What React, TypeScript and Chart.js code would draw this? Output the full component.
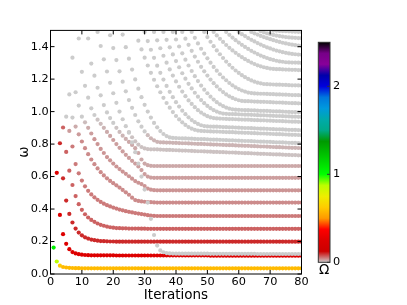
import React, { useEffect, useRef } from 'react';
import { Chart, registerables } from 'chart.js';
Chart.register(...registerables);

const W = 407;
const H = 305;
const FONT = 'DejaVu Sans';

// ---- axis settings ----
const X_MIN = 0, X_MAX = 80, X_STEP = 10;
const Y_MIN = 0, Y_MAX = 1.5, Y_STEP = 0.2;
const CB_MIN = 0, CB_MAX = 2.5, CB_STEP = 1;

// ---- converged (coloured) modes: omega per iteration, starting at modeStarts[j] ----
const w0 = [0.163,0.077,0.051,0.043,0.040,0.038,0.037,0.036,0.036,0.035,
0.035,0.035,0.035,0.035,0.035,0.035,0.035,0.035,0.035,0.035,
0.035,0.035,0.035,0.035,0.035,0.035,0.035,0.035,0.035,0.035,
0.035,0.035,0.035,0.035,0.035,0.035,0.035,0.035,0.035,0.035,
0.035,0.035,0.035,0.035,0.035,0.035,0.035,0.035,0.035,0.035,
0.035,0.035,0.035,0.035,0.035,0.035,0.035,0.035,0.035,0.035,
0.035,0.035,0.035,0.035,0.035,0.035,0.035,0.035,0.035,0.035,
0.035,0.035,0.035,0.035,0.035,0.035,0.035,0.035,0.035,0.035];
const w1 = [0.623,0.364,0.245,0.186,0.153,0.135,0.127,0.122,0.119,
0.117,0.116,0.115,0.115,0.115,0.115,0.115,0.115,0.115,0.115,
0.114,0.114,0.114,0.114,0.114,0.114,0.114,0.114,0.114,0.114,
0.114,0.114,0.114,0.114,0.114,0.114,0.114,0.114,0.114,0.114,
0.114,0.114,0.114,0.114,0.114,0.114,0.114,0.114,0.114,0.114,
0.113,0.113,0.113,0.113,0.113,0.113,0.113,0.113,0.113,0.113,
0.113,0.113,0.113,0.113,0.113,0.113,0.113,0.113,0.113,0.113,
0.113,0.113,0.113,0.113,0.113,0.113,0.113,0.113,0.113,0.113];
const w2 = [0.805,0.589,0.452,0.370,0.317,0.280,0.255,0.238,
0.226,0.218,0.212,0.208,0.205,0.203,0.202,0.201,0.200,0.200,
0.199,0.199,0.199,0.199,0.199,0.199,0.199,0.199,0.199,0.199,
0.199,0.199,0.199,0.199,0.199,0.199,0.199,0.199,0.199,0.199,
0.199,0.199,0.199,0.199,0.199,0.199,0.199,0.199,0.199,0.199,
0.199,0.199,0.199,0.199,0.199,0.199,0.199,0.199,0.199,0.199,
0.199,0.199,0.199,0.199,0.199,0.199,0.199,0.199,0.199,0.199,
0.199,0.199,0.199,0.199,0.199,0.199,0.199,0.199,0.199,0.199];
const w3 = [0.902,0.752,0.636,0.548,0.480,0.430,0.395,
0.368,0.348,0.333,0.321,0.311,0.303,0.297,0.292,0.288,0.285,
0.283,0.282,0.281,0.281,0.280,0.280,0.280,0.280,0.279,0.279,
0.278,0.278,0.278,0.278,0.278,0.278,0.278,0.278,0.278,0.278,
0.278,0.278,0.278,0.278,0.278,0.278,0.278,0.278,0.278,0.278,
0.278,0.278,0.278,0.278,0.278,0.278,0.278,0.278,0.278,0.278,
0.278,0.278,0.278,0.278,0.278,0.278,0.278,0.278,0.278,0.278,
0.278,0.278,0.278,0.278,0.278,0.278,0.278,0.278,0.278,0.278];
const w4 = [0.969,0.881,0.785,0.677,0.620,0.575,
0.540,0.512,0.490,0.472,0.457,0.444,0.433,0.424,0.416,0.409,
0.403,0.397,0.392,0.387,0.383,0.379,0.375,0.372,0.369,0.366,
0.362,0.359,0.358,0.357,0.357,0.357,0.357,0.357,0.357,0.357,
0.357,0.357,0.357,0.357,0.357,0.357,0.357,0.357,0.357,0.357,
0.357,0.357,0.357,0.357,0.357,0.357,0.357,0.357,0.357,0.357,
0.357,0.357,0.357,0.357,0.357,0.357,0.357,0.357,0.357,0.357,
0.357,0.357,0.357,0.357,0.357,0.357,0.357,0.357,0.357,0.357];
const w5 = [1.106,0.963,0.908,0.860,0.816,
0.775,0.738,0.705,0.676,0.650,0.627,0.607,0.589,0.573,0.559,
0.546,0.532,0.518,0.503,0.488,0.470,0.455,0.450,0.447,0.445,
0.443,0.442,0.441,0.440,0.440,0.440,0.440,0.440,0.440,0.440,
0.440,0.440,0.440,0.440,0.440,0.440,0.440,0.440,0.440,0.440,
0.440,0.440,0.440,0.440,0.440,0.440,0.440,0.440,0.440,0.440,
0.440,0.440,0.440,0.440,0.440,0.440,0.440,0.440,0.440,0.440,
0.440,0.440,0.440,0.440,0.440,0.440,0.440,0.440,0.440,0.440];
const w6 = [1.332,1.119,1.037,0.969,
0.934,0.900,0.865,0.830,0.800,0.770,0.745,0.720,0.700,0.680,
0.662,0.646,0.631,0.617,0.602,0.587,0.572,0.562,0.554,0.542,
0.526,0.519,0.516,0.515,0.515,0.515,0.515,0.515,0.515,0.515,
0.515,0.515,0.515,0.515,0.515,0.515,0.515,0.515,0.515,0.515,
0.515,0.515,0.515,0.515,0.515,0.515,0.515,0.515,0.515,0.515,
0.515,0.515,0.515,0.515,0.515,0.515,0.515,0.515,0.515,0.515,
0.515,0.515,0.515,0.515,0.515,0.515,0.515,0.515,0.515,0.515];
const w7 = [1.450,1.245,
1.159,1.086,1.020,0.979,0.950,0.925,0.900,0.875,0.850,0.825,
0.800,0.777,0.755,0.734,0.715,0.697,0.680,0.662,0.640,0.615,
0.600,0.594,0.592,0.592,0.592,0.592,0.592,0.592,0.592,0.592,
0.592,0.592,0.592,0.592,0.592,0.592,0.592,0.592,0.592,0.592,
0.592,0.592,0.592,0.592,0.592,0.592,0.592,0.592,0.592,0.592,
0.592,0.592,0.592,0.592,0.592,0.592,0.592,0.592,0.592,0.592,
0.592,0.592,0.592,0.592,0.592,0.592,0.592,0.592,0.592,0.592];
const w8 = [1.450,1.296,1.221,1.147,1.100,1.040,0.995,0.960,0.930,
0.900,0.875,0.852,0.832,0.813,0.795,0.775,0.745,0.705,0.680,
0.670,0.666,0.665,0.665,0.665,0.665,0.665,0.665,0.665,0.665,
0.665,0.665,0.665,0.665,0.665,0.665,0.665,0.665,0.665,0.665,
0.665,0.665,0.665,0.665,0.665,0.665,0.665,0.665,0.665,0.665,
0.665,0.665,0.665,0.665,0.665,0.665,0.665,0.665,0.665,0.665,
0.665,0.665,0.665,0.665,0.665,0.665,0.665,0.665,0.665,0.665];

// ---- upper (grey) modes ----
const u1 = [1.490,1.404,1.322,1.247,1.177,1.113,1.054,1.000,0.953,0.910,0.874,0.842,0.817,0.797,0.782,0.773,
0.769,0.768,0.768,0.767,0.766,0.765,0.764,0.764,0.763,0.762,
0.761,0.760,0.760,0.759,0.758,0.757,0.756,0.756,0.755,0.754,
0.753,0.752,0.752,0.751,0.750,0.749,0.748,0.748,0.747,0.746,
0.745,0.744,0.744,0.743,0.742,0.741,0.740,0.740,0.739,0.738,
0.737,0.736,0.736,0.735,0.734,0.733,0.732,0.732,0.731,0.730];
const u2 = [1.470,1.391,1.317,1.248,1.184,1.125,1.071,1.023,0.979,0.940,0.907,0.878,0.855,0.836,0.823,0.814,0.811,
0.810,0.809,0.809,0.808,0.807,0.806,0.805,0.805,0.804,0.803,
0.802,0.801,0.801,0.800,0.799,0.798,0.797,0.797,0.796,0.795,
0.794,0.793,0.793,0.792,0.791,0.790,0.789,0.789,0.788,0.787,
0.786,0.785,0.785,0.784,0.783,0.782,0.781,0.781,0.780,0.779,
0.778,0.777,0.777,0.776,0.775];
const u3 = [1.474,1.397,1.326,1.259,1.198,1.141,1.089,1.042,1.000,0.963,0.930,0.903,0.880,0.862,0.849,0.841,
0.838,0.837,0.836,0.835,0.835,0.834,0.833,0.832,0.831,0.831,
0.830,0.829,0.828,0.827,0.827,0.826,0.825,0.824,0.823,0.823,
0.822,0.821,0.820,0.819,0.819,0.818,0.817,0.816,0.815,0.815,
0.814,0.813,0.812,0.811,0.811,0.810,0.809,0.808,0.807,0.807,
0.806,0.805];
const u4 = [1.437,1.383,1.332,1.284,1.239,1.196,1.156,1.119,1.085,1.053,
1.024,0.997,0.973,0.952,0.934,0.918,0.905,0.895,0.888,0.883,
0.881,0.880,0.879,0.878,0.877,0.877,0.876,0.875,0.874,0.873,
0.873,0.872,0.871,0.870,0.869,0.869,0.868,0.867,0.866,0.865,
0.865,0.864,0.863,0.862,0.861,0.861,0.860,0.859,0.858,0.857,
0.857,0.856,0.855];
const u5 = [1.490,1.434,1.381,1.331,1.283,1.239,1.197,1.158,1.122,1.089,1.058,
1.031,1.006,0.984,0.965,0.948,0.935,0.924,0.916,0.911,0.909,
0.908,0.907,0.907,0.906,0.905,0.904,0.903,0.903,0.902,0.901,
0.900,0.899,0.899,0.898,0.897,0.896,0.895,0.895,0.894,0.893,
0.892,0.891,0.891,0.890,0.889,0.888,0.887,0.887,0.886,0.885];
const u6 = [1.490,1.439,1.390,1.344,1.301,1.260,1.222,1.186,
1.153,1.123,1.095,1.069,1.047,1.027,1.009,0.994,0.982,0.972,
0.964,0.960,0.958,0.957,0.956,0.955,0.954,0.954,0.953,0.952,
0.951,0.950,0.950,0.949,0.948,0.947,0.946,0.946,0.945,0.944,
0.943,0.942,0.942,0.941,0.940,0.939,0.938,0.938,0.937,0.936];
const u7 = [1.490,1.442,1.396,1.352,1.311,
1.273,1.236,1.203,1.171,1.143,1.116,1.092,1.071,1.052,1.035,
1.021,1.009,1.000,0.993,0.988,0.986,0.985,0.985,0.984,0.983,
0.982,0.981,0.981,0.980,0.979,0.978,0.977,0.977,0.976,0.975,
0.974,0.973,0.973,0.972,0.971,0.970,0.969,0.969,0.968,0.967];
const u8 = [1.490,1.444,
1.401,1.359,1.320,1.284,1.250,1.218,1.188,1.160,1.135,1.113,
1.092,1.074,1.058,1.045,1.034,1.025,1.018,1.014,1.012,1.011,
1.010,1.009,1.009,1.008,1.007,1.006,1.005,1.005,1.004,1.003,
1.002,1.001,1.001,1.000,0.999,0.998,0.997,0.997,0.996,0.995];
const u9 = [1.490,1.449,1.411,1.374,1.339,1.307,1.276,1.248,1.222,
1.197,1.175,1.155,1.136,1.120,1.106,1.094,1.084,1.076,1.070,
1.066,1.064,1.064,1.063,1.062,1.061,1.060,1.060,1.059,1.058,
1.057,1.056,1.056,1.055,1.054,1.053,1.052,1.052,1.051,1.050];
const u10 = [1.490,1.454,1.420,1.387,1.357,1.328,
1.301,1.275,1.252,1.230,1.210,1.193,1.176,1.162,1.149,1.139,
1.130,1.123,1.117,1.114,1.112,1.111,1.110,1.110,1.109,1.108,
1.107,1.106,1.106,1.105,1.104,1.103,1.102,1.102,1.101,1.100];
const u11 = [1.490,1.459,
1.430,1.403,1.377,1.353,1.330,1.308,1.288,1.270,1.253,1.238,
1.224,1.212,1.201,1.192,1.184,1.178,1.174,1.170,1.169,1.168,
1.167,1.166,1.166,1.165,1.164,1.163,1.162,1.162,1.161,1.160];
const u12 = [1.490,1.469,1.448,1.429,1.410,1.393,1.377,1.362,1.348,
1.335,1.323,1.312,1.302,1.293,1.285,1.279,1.273,1.269,1.265,
1.263,1.261,1.261,1.260,1.259,1.258,1.257,1.257,1.256,1.255];
const u13 = [1.490,1.473,1.456,1.440,1.425,
1.411,1.398,1.386,1.374,1.364,1.354,1.345,1.337,1.330,1.323,
1.318,1.313,1.309,1.307,1.304,1.303,1.302,1.302,1.301,1.300];
const u14 = [1.490,
1.477,1.465,1.453,1.442,1.432,1.422,1.413,1.404,1.396,1.389,
1.382,1.376,1.371,1.366,1.362,1.358,1.355,1.353,1.351,1.350];
const u15 = [1.490,1.482,1.474,1.466,1.459,1.452,1.446,
1.440,1.434,1.429,1.424,1.420,1.416,1.412,1.409,1.406,1.403];
const u16 = [1.495,1.488,1.482,1.477,
1.472,1.468,1.465,1.462,1.459,1.457,1.455,1.454,1.453,1.452];
const u17 = [1.499,1.498,1.497,1.496,1.495,1.494,1.493,1.492,1.491,1.490];

// ---- the grey mode that drops down through the spectrum around iteration 30 ----
const ghostStart = 25;
const wGhost = [0.870,0.810,0.750,0.680,0.600,0.520,
0.440,0.340,0.240,0.175,0.145,0.134,0.129,0.127,0.126,0.125,
0.125,0.125,0.125,0.125,0.125,0.125,0.125,0.125,0.125,0.125,
0.124,0.124,0.124,0.124,0.124,0.124,0.124,0.124,0.124,0.124,
0.124,0.124,0.124,0.124,0.124,0.123,0.123,0.123,0.123,0.123,
0.123,0.123,0.123,0.123,0.123,0.123,0.123,0.123,0.123,0.123];

const modeStarts = [1,2,3,4,5,6,7,9,12, 15,19,23,28,30,33,36,39,42,45,49,52,56,60,64,67,71];
const modeValues = [w0,w1,w2,w3,w4,w5,w6,w7,w8, u1,u2,u3,u4,u5,u6,u7,u8,u9,u10,u11,u12,u13,u14,u15,u16,u17];

// ---- Omega (colour value) per mode: listed for the first points, the last value holds ----
const om0 = [1.05, 0.87, 0.62, 0.58];
const om1 = [0.25];
const om2 = [0.10];
const om3 = [0.065];
const om4 = [0.0, 0.03, 0.05];
const om5 = [0.0, 0.0, 0.02, 0.03, 0.04];
const om6 = [0, 0, 0, 0, 0.01, 0.02, 0.028, 0.034];
const om7 = [0, 0, 0, 0, 0, 0, 0.005, 0.01, 0.015, 0.02, 0.024, 0.028];
const om8 = [0, 0, 0, 0, 0, 0, 0, 0, 0, 0.005, 0.01, 0.014, 0.018, 0.022];
const omU1 = [0, 0, 0, 0, 0, 0, 0, 0, 0, 0, 0.004, 0.006];
const omU2 = [0, 0, 0, 0, 0, 0, 0, 0, 0, 0, 0, 0, 0.01, 0.015];
const omGrey = [0];
const modeOmega = [om0,om1,om2,om3,om4,om5,om6,om7,om8, omU1,omU2,
  omGrey,omGrey,omGrey,omGrey,omGrey,omGrey,omGrey,omGrey,omGrey,omGrey,omGrey,omGrey,omGrey,omGrey,omGrey];

// nipy_spectral colormap control points at 0.05 steps
const NIPY = [
  [0,0,0],[0.4667,0,0.5333],[0.5333,0,0.6],[0,0,0.6667],[0,0,0.8667],
  [0,0.4667,0.8667],[0,0.6,0.8667],[0,0.6667,0.6667],[0,0.6667,0.5333],[0,0.6,0],
  [0,0.7333,0],[0,0.8667,0],[0,1,0],[0.7333,1,0],[0.9333,0.9333,0],
  [1,0.8,0],[1,0.6,0],[1,0,0],[0.8667,0,0],[0.8,0,0],[0.8,0.8,0.8]
];

function nipyAt(t: number): number[] {
  const tt = Math.max(0, Math.min(1, t));
  let i = Math.floor(tt * 20 + 1e-9);
  if (i > 19) i = 19;
  const r = Math.max(0, Math.min(1, tt * 20 - i));
  const a = NIPY[i], b = NIPY[i + 1];
  return [0, 1, 2].map(k => Math.round(255 * (a[k] + (b[k] - a[k]) * r)));
}
function omegaColor(om: number): string {
  const v = Number.isFinite(om) ? om : 0;
  const c = nipyAt(1 - v / CB_MAX);
  return `rgb(${c[0]},${c[1]},${c[2]})`;
}
function omAt(arr: number[], i: number) { return arr[Math.min(i, arr.length - 1)]; }

const framePlugin = {
  id: 'frame',
  afterDraw(chart: any) {
    const { ctx, chartArea: a, scales } = chart;
    const xs = scales.x, ys = scales.y;
    ctx.save();
    ctx.strokeStyle = '#000';
    ctx.lineWidth = 1;
    ctx.strokeRect(a.left, a.top, a.right - a.left, a.bottom - a.top);
    ctx.beginPath();
    xs.ticks.forEach((t: any) => {
      const px = xs.getPixelForValue(t.value);
      ctx.moveTo(px, a.bottom); ctx.lineTo(px, a.bottom - 4);
      ctx.moveTo(px, a.top); ctx.lineTo(px, a.top + 4);
    });
    ys.ticks.forEach((t: any) => {
      const py = ys.getPixelForValue(t.value);
      ctx.moveTo(a.left, py); ctx.lineTo(a.left + 4, py);
      ctx.moveTo(a.right, py); ctx.lineTo(a.right - 4, py);
    });
    ctx.stroke();
    ctx.restore();
  }
};

const cbFramePlugin = {
  id: 'cbframe',
  afterDraw(chart: any) {
    const { ctx, chartArea: a, scales } = chart;
    const ys = scales.y;
    ctx.save();
    ctx.strokeStyle = '#333';
    ctx.lineWidth = 1;
    ctx.strokeRect(a.left, a.top, a.right - a.left, a.bottom - a.top);
    ctx.beginPath();
    ys.ticks.forEach((t: any) => {
      const py = ys.getPixelForValue(t.value);
      ctx.moveTo(a.right, py); ctx.lineTo(a.right - 3, py);
    });
    ctx.stroke();
    ctx.restore();
  }
};

function makeDataset(start: number, vals: number[], oms: number[]) {
  const colors = vals.map((_, i) => omegaColor(omAt(oms, i)));
  return {
    data: vals.map((v, i) => ({ x: start + i, y: v })),
    backgroundColor: 'rgb(204,204,204)',
    borderColor: 'rgba(0,0,0,0)',
    pointBackgroundColor: (c: any) => colors[c.dataIndex] || 'rgb(204,204,204)',
    pointBorderColor: 'rgba(0,0,0,0)',
    pointRadius: 2.1,
    pointBorderWidth: 0,
    pointHoverRadius: 2.1,
    pointHoverBorderWidth: 0,
    showLine: false,
  };
}

export default function App() {
  const mainRef = useRef<HTMLCanvasElement>(null);
  const cbRef = useRef<HTMLCanvasElement>(null);

  useEffect(() => {
    const datasets: any[] = [];
    datasets.push(makeDataset(ghostStart, wGhost, omGrey));
    modeValues.forEach((vals, j) => datasets.push(makeDataset(modeStarts[j], vals, modeOmega[j])));

    const tickFont = { family: FONT, size: 11.3 };
    const titleFont = { family: FONT, size: 13.5 };

    const main = new Chart(mainRef.current!, {
      type: 'scatter',
      data: { datasets },
      options: {
        animation: false,
        responsive: false,
        maintainAspectRatio: false,
        devicePixelRatio: 1,
        events: [],
        layout: { padding: { left: 0, right: 105.5, top: 30.4, bottom: 0 } },
        plugins: { legend: { display: false }, tooltip: { enabled: false }, colors: { enabled: false } } as any,
        scales: {
          x: {
            type: 'linear', min: X_MIN, max: X_MAX,
            ticks: { stepSize: X_STEP, includeBounds: false, font: tickFont, color: '#000', padding: 1.7, maxRotation: 0 },
            grid: { display: false, drawTicks: false },
            border: { display: false },
            title: { display: true, text: 'Iterations', font: titleFont, color: '#000', padding: { top: 0, bottom: 1.9 } },
            afterFit: (s: any) => { s.height = 31; },
          },
          y: {
            type: 'linear', min: Y_MIN, max: Y_MAX,
            ticks: { stepSize: Y_STEP, includeBounds: false, font: tickFont, color: '#000', padding: 1.8,
              callback: (v: any) => Number(v).toFixed(1) },
            grid: { display: false, drawTicks: false },
            border: { display: false },
            title: { display: true, text: 'ω', font: titleFont, color: '#000', padding: { top: 15.9, bottom: 0 } },
            afterFit: (s: any) => { s.width = 50.5; },
          },
        },
      },
      plugins: [framePlugin],
    });

    const cb = new Chart(cbRef.current!, {
      type: 'bar',
      data: {
        labels: [''],
        datasets: [{
          data: [[CB_MIN, CB_MAX]] as any,
          borderWidth: 0,
          barPercentage: 1,
          categoryPercentage: 1,
          backgroundColor: (ctx: any) => {
            const chart = ctx.chart;
            const ys = chart.scales && chart.scales.y;
            if (!chart.chartArea || !ys) return '#ccc';
            const bottom = ys.getPixelForValue(CB_MIN);
            const top = ys.getPixelForValue(CB_MAX);
            const g = chart.ctx.createLinearGradient(0, bottom, 0, top);
            NIPY.forEach((c, i) => {
              const t = i * 0.05;
              g.addColorStop(Math.max(0, Math.min(1, 1 - t)),
                `rgb(${Math.round(c[0]*255)},${Math.round(c[1]*255)},${Math.round(c[2]*255)})`);
            });
            return g;
          },
        }],
      },
      options: {
        animation: false,
        responsive: false,
        maintainAspectRatio: false,
        devicePixelRatio: 1,
        events: [],
        layout: { padding: { left: 18.3, right: 0, top: 42.3, bottom: 0 } },
        plugins: { legend: { display: false }, tooltip: { enabled: false } },
        scales: {
          x: {
            display: true,
            grid: { display: false, drawTicks: false },
            border: { display: false },
            ticks: { display: false },
            title: { display: true, text: 'Ω', font: titleFont, color: '#000', padding: { top: 0, bottom: 26.6 } },
            afterFit: (s: any) => { s.height = 42.7; },
          },
          y: {
            position: 'right', min: CB_MIN, max: CB_MAX,
            grid: { display: false, drawTicks: false },
            border: { display: false },
            ticks: { stepSize: CB_STEP, includeBounds: false, font: tickFont, color: '#000', padding: 3 },
            afterFit: (s: any) => { s.width = 77; },
          },
        },
      },
      plugins: [cbFramePlugin],
    });

    return () => { main.destroy(); cb.destroy(); };
  }, []);

  return (
    <div style={{ position: 'fixed', left: 0, top: 0, width: W, height: H, background: '#fff' }}>
      <canvas ref={mainRef} width={W} height={H} style={{ position: 'absolute', left: 0, top: 0, width: W, height: H }} />
      <canvas ref={cbRef} width={107} height={H} style={{ position: 'absolute', left: 300, top: 0, width: 107, height: H }} />
    </div>
  );
}
